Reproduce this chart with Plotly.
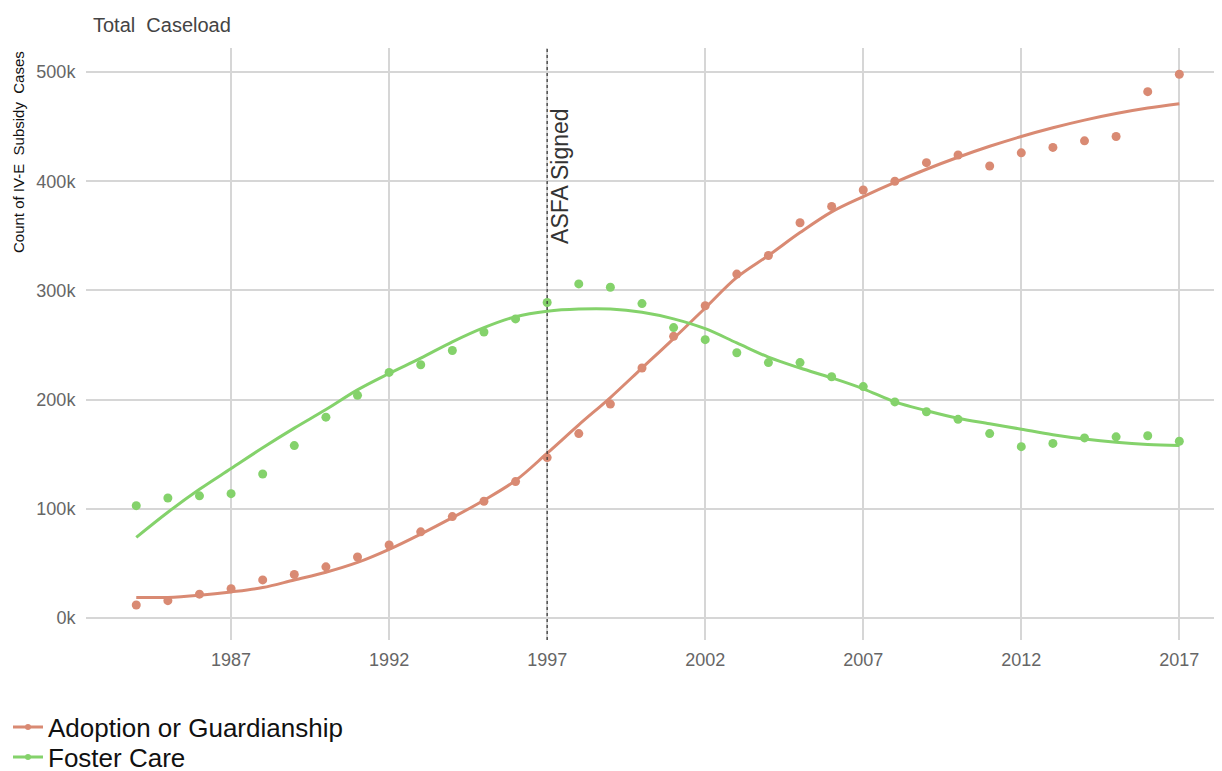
import plotly.graph_objects as go

years = list(range(1984, 2018))

adoption = [12, 16, 22, 27, 35, 40, 47, 56, 67, 79, 93, 107, 125, 147, 169, 196, 229, 258,
            286, 315, 332, 362, 377, 392, 400, 417, 424, 414, 426, 431, 437, 441, 482, 498]
foster = [103, 110, 112, 114, 132, 158, 184, 204, 225, 232, 245, 262, 274, 289, 306, 303, 288, 266,
          255, 243, 234, 234, 221, 212, 198, 189, 182, 169, 157, 160, 165, 166, 167, 162]

adoption_trend = [19, 19, 21, 24, 28, 35, 42, 51, 63, 77, 92, 108, 126, 151, 177, 202, 229, 256,
                  284, 312, 332, 353, 372, 386, 399, 411, 422, 432, 441, 449, 456, 462, 467, 471]
foster_trend = [74, 97, 118, 137, 156, 174, 191, 209, 224, 238, 253, 266, 276, 281, 283, 283, 280, 274,
                265, 252, 239, 229, 220, 210, 198, 190, 183, 178, 173, 168, 164, 161, 159, 158]

tick_years = [1987, 1992, 1997, 2002, 2007, 2012, 2017]
y_ticks = [0, 100000, 200000, 300000, 400000, 500000]
y_tick_labels = ["0k", "100k", "200k", "300k", "400k", "500k"]

asfa_year = 1997

RED = "#d98a73"
GREEN = "#84d26b"

k = lambda arr: [v * 1000 for v in arr]

# figure is offset by the page's 8px body margin, so size/positions are compensated
W, H = 1214, 800
L, T = 78, 40
PLOT_BOTTOM = 632
B = H - PLOT_BOTTOM
PW, PH = W - L, PLOT_BOTTOM - T

fig = go.Figure()

fig.add_trace(go.Scatter(x=years, y=k(adoption_trend), mode="lines",
                         line=dict(color=RED, width=3, shape="spline"), showlegend=False, hoverinfo="skip"))
fig.add_trace(go.Scatter(x=years, y=k(foster_trend), mode="lines",
                         line=dict(color=GREEN, width=3, shape="spline"), showlegend=False, hoverinfo="skip"))
fig.add_trace(go.Scatter(x=years, y=k(adoption), mode="markers",
                         marker=dict(color=RED, size=9), showlegend=False, name="Adoption or Guardianship"))
fig.add_trace(go.Scatter(x=years, y=k(foster), mode="markers",
                         marker=dict(color=GREEN, size=9), showlegend=False, name="Foster Care"))

# legend entries (one legend per entry for exact placement)
fig.add_trace(go.Scatter(x=[None], y=[None], mode="lines+markers", name="Adoption or Guardianship",
                         line=dict(color=RED, width=3), marker=dict(color=RED, size=6), legend="legend"))
fig.add_trace(go.Scatter(x=[None], y=[None], mode="lines+markers", name="Foster Care",
                         line=dict(color=GREEN, width=3), marker=dict(color=GREEN, size=6), legend="legend2"))

fig.add_shape(type="line", x0=asfa_year, x1=asfa_year, xref="x", y0=0, y1=1, yref="paper",
              line=dict(color="#333333", width=1.2, dash="dot"))
fig.add_annotation(x=asfa_year, y=405000, xref="x", yref="y", text="ASFA Signed", textangle=-90,
                   showarrow=False, xanchor="center", yanchor="middle", xshift=13,
                   font=dict(family="Liberation Sans, Arial", size=23, color="#333333"))

# y-axis title placed near the top like the reference
fig.add_annotation(x=(10 - L) / PW, y=(T + PH - 144) / PH, xref="paper", yref="paper",
                   text="Count of IV-E  Subsidy  Cases",
                   textangle=-90, showarrow=False, xanchor="center", yanchor="middle",
                   font=dict(family="Liberation Sans, Arial", size=15, color="#111111"))

legend_style = dict(xanchor="left", yanchor="middle", orientation="v",
                    font=dict(family="Liberation Sans, Arial", size=26, color="#111111"),
                    itemwidth=30, bgcolor="rgba(0,0,0,0)")

fig.update_layout(
    width=W, height=H,
    margin=dict(l=L, r=0, t=T, b=B),
    paper_bgcolor="white", plot_bgcolor="white",
    font=dict(family="Liberation Sans, Arial", color="#666666"),
    title=dict(text="Total  Caseload", x=85 / W, xanchor="left", y=1 - 17 / H, yanchor="middle",
               font=dict(family="Liberation Sans, Arial", size=20, color="#444444")),
    xaxis=dict(range=[1982.41, 2018.35], tickvals=tick_years, ticktext=[str(t) for t in tick_years],
               showgrid=True, gridcolor="#d6d6d6", gridwidth=1.5, zeroline=False, showline=False,
               ticks="outside", ticklen=3, tickcolor="rgba(0,0,0,0)", automargin=False,
               tickfont=dict(size=18, color="#666666")),
    yaxis=dict(range=[-20000, 522000], tickvals=y_ticks, ticktext=y_tick_labels,
               showgrid=True, gridcolor="#d6d6d6", gridwidth=1.5, zeroline=False, showline=False,
               ticks="outside", ticklen=6, tickcolor="rgba(0,0,0,0)", automargin=False,
               tickfont=dict(size=18, color="#666666")),
    legend=dict(x=-L / PW, y=(PLOT_BOTTOM - 719) / PH, **legend_style),
    legend2=dict(x=-L / PW, y=(PLOT_BOTTOM - 749) / PH, **legend_style),
)

fig.write_html("out.html")
